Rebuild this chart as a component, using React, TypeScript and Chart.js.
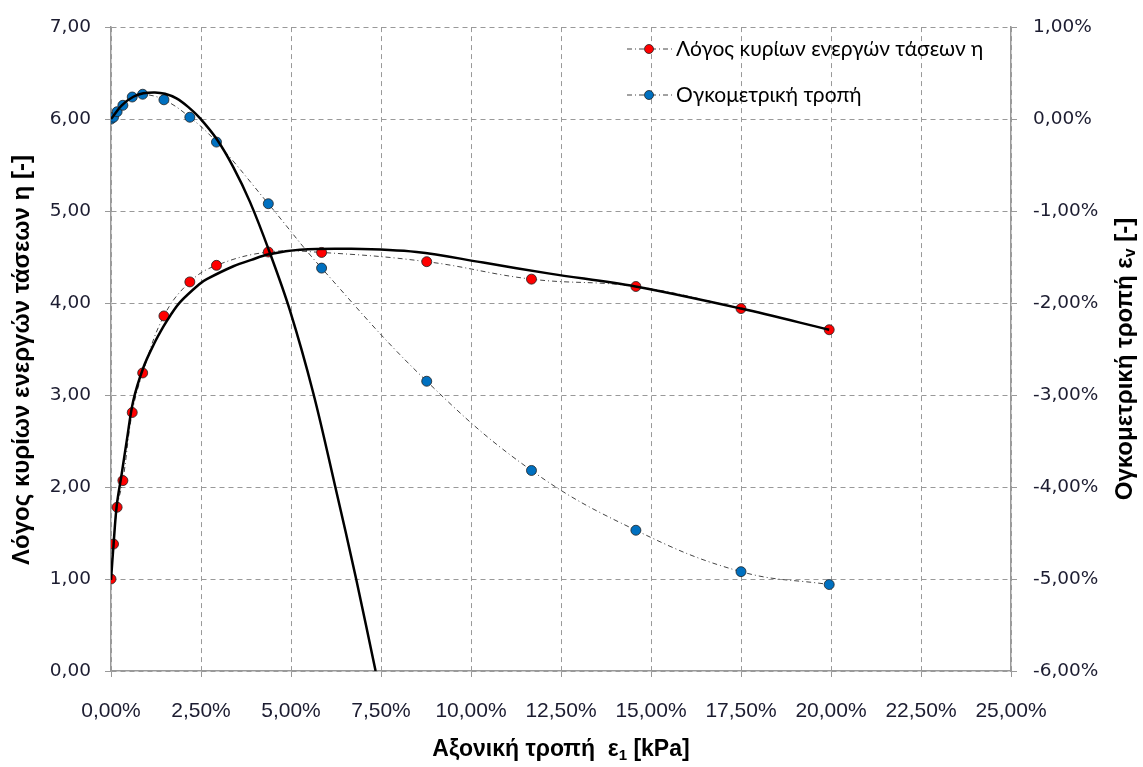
import React, { useEffect, useRef } from "react";
import { Chart, registerables } from "chart.js";

Chart.register(...registerables);

// ---- data (x in % axial strain) ----
const strainPct = [0, 0.07, 0.17, 0.33, 0.59, 0.88, 1.47, 2.19, 2.93, 4.37, 5.85, 8.77, 11.68, 14.58, 17.5, 19.95];
const etaValues = [1.0, 1.38, 1.78, 2.07, 2.81, 3.24, 3.86, 4.23, 4.41, 4.555, 4.55, 4.45, 4.26, 4.18, 3.94, 3.71];
const volStrainPct = [0, 0.02, 0.08, 0.15, 0.24, 0.27, 0.21, 0.02, -0.25, -0.92, -1.62, -2.85, -3.82, -4.47, -4.92, -5.06];

// fitted (trend) curves
const etaFitX = [0, 0.07, 0.16, 0.3, 0.44, 0.62, 0.9, 1.2, 1.45, 1.64, 1.92, 2.47, 2.66, 3.4, 3.9, 4.39, 5.25, 6.64, 8.49, 10.34, 12.19, 14.57, 17.5, 19.95];
const etaFitY = [0.99, 1.37, 1.8, 2.15, 2.51, 2.94, 3.3, 3.56, 3.74, 3.86, 4.01, 4.21, 4.26, 4.4, 4.47, 4.53, 4.58, 4.59, 4.555, 4.44, 4.32, 4.18, 3.94, 3.71];
const volFitX = [0, 0.3, 0.62, 0.9, 1.22, 1.5, 1.82, 2.15, 2.47, 2.94, 3.4, 3.86, 4.39, 4.97, 5.62, 6.22, 6.81, 7.35];
const volFitY = [0, 0.15, 0.243, 0.28, 0.29, 0.275, 0.225, 0.13, 0.01, -0.22, -0.525, -0.9, -1.43, -2.08, -2.98, -3.98, -5.0, -6.0];

const xTicks = [0, 2.5, 5, 7.5, 10, 12.5, 15, 17.5, 20, 22.5, 25];
const legendLabels = ["Λόγος κυρίων ενεργών τάσεων η", "Ογκομετρική τροπή"];
const leftTitle = ["Λόγος κυρίων ενεργών τάσεων η [-]", "", ""];
const rightTitle = ["Ογκομετρική τροπή ε", "v", " [-]"];
const bottomTitle = ["Αξονική τροπή  ε", "1", " [kPa]"];

const RED = "#FF0000";
const BLUE = "#0070C0";
const TICK_COLOR = "#1c1c30";
const comma = (v: number, d = 2) => v.toFixed(d).replace(".", ",");

const FAMILY = "'Liberation Sans Narrow', 'Liberation Sans', sans-serif";

function drawRich(ctx: CanvasRenderingContext2D, parts: string[], cx: number, cy: number, rot: number, size: number) {
  ctx.save();
  ctx.translate(cx, cy);
  ctx.rotate(rot);
  ctx.textBaseline = "middle";
  ctx.fillStyle = "#000";
  const fonts = [`bold ${size}px ${FAMILY}`, `bold ${Math.round(size * 0.65)}px ${FAMILY}`, `bold ${size}px ${FAMILY}`];
  const widths = parts.map((p, i) => {
    ctx.font = fonts[i];
    return ctx.measureText(p).width;
  });
  const total = widths.reduce((a, b) => a + b, 0);
  let x = -total / 2;
  parts.forEach((p, i) => {
    ctx.font = fonts[i];
    ctx.textAlign = "left";
    ctx.fillText(p, x, i === 1 ? size * 0.25 : 0);
    x += widths[i];
  });
  ctx.restore();
}

const overlayPlugin = {
  id: "overlay",
  afterDraw(chart: any) {
    const ctx: CanvasRenderingContext2D = chart.ctx;
    drawRich(ctx, leftTitle, 22, 360, -Math.PI / 2, 24);
    drawRich(ctx, rightTitle, 1125, 359, -Math.PI / 2, 24);
    drawRich(ctx, bottomTitle, 561, 750, 0, 23);

    // legend
    const colors = [RED, BLUE];
    const ys = [49, 95];
    legendLabels.forEach((lab, i) => {
      const y = ys[i];
      ctx.save();
      ctx.strokeStyle = "#444";
      ctx.lineWidth = 1;
      ctx.setLineDash([5, 3, 1, 3]);
      ctx.beginPath();
      ctx.moveTo(627, y);
      ctx.lineTo(672, y);
      ctx.stroke();
      ctx.setLineDash([]);
      ctx.beginPath();
      ctx.arc(649, y, 4.5, 0, Math.PI * 2);
      ctx.fillStyle = colors[i];
      ctx.fill();
      ctx.strokeStyle = "#222";
      ctx.lineWidth = 0.8;
      ctx.stroke();
      ctx.font = "21px Lato, 'Open Sans', sans-serif";
      ctx.fillStyle = "#000";
      ctx.textAlign = "left";
      ctx.textBaseline = "middle";
      ctx.fillText(lab, 676, y);
      ctx.restore();
    });
  },
};

export default function App() {
  const ref = useRef<HTMLCanvasElement | null>(null);
  useEffect(() => {
    if (!ref.current) return;
    const pts = (xs: number[], ys: number[]) => xs.map((x, i) => ({ x, y: ys[i] }));
    const chart = new Chart(ref.current, {
      type: "scatter",
      data: {
        datasets: [
          {
            label: "etaFit",
            data: pts(etaFitX, etaFitY),
            showLine: true,
            borderColor: "#000",
            borderWidth: 2.5,
            pointRadius: 0,
            tension: 0.35,
            yAxisID: "y",
          } as any,
          {
            label: "volFit",
            data: pts(volFitX, volFitY),
            showLine: true,
            borderColor: "#000",
            borderWidth: 2.5,
            pointRadius: 0,
            tension: 0.35,
            yAxisID: "y1",
          } as any,
          {
            label: legendLabels[0],
            data: pts(strainPct, etaValues),
            showLine: true,
            borderColor: "#444",
            borderWidth: 1,
            borderDash: [5, 3, 1, 3],
            tension: 0.4,
            pointRadius: 5,
            pointBackgroundColor: RED,
            pointBorderColor: "#222",
            pointBorderWidth: 0.8,
            yAxisID: "y",
          } as any,
          {
            label: legendLabels[1],
            data: pts(strainPct, volStrainPct),
            showLine: true,
            borderColor: "#444",
            borderWidth: 1,
            borderDash: [5, 3, 1, 3],
            tension: 0.4,
            pointRadius: 5,
            pointBackgroundColor: BLUE,
            pointBorderColor: "#222",
            pointBorderWidth: 0.8,
            yAxisID: "y1",
          } as any,
        ],
      },
      options: {
        responsive: false,
        animation: false,
        layout: { padding: { top: 18, left: 0, right: 0, bottom: 0 } },
        plugins: { legend: { display: false }, tooltip: { enabled: false } },
        scales: {
          x: {
            type: "linear",
            min: 0,
            max: 25,
            afterBuildTicks: (s: any) => {
              s.ticks = xTicks.map((v) => ({ value: v }));
            },
            afterFit: (s: any) => {
              s.height = 96;
            },
            ticks: {
              callback: (v: any) => comma(Number(v)) + "%",
              font: { family: FAMILY, size: 21 },
              color: TICK_COLOR,
              padding: 22,
              maxRotation: 0,
              autoSkip: false,
            },
            grid: {
              color: "#999",
              lineWidth: 1,
              tickLength: 6,
              tickColor: "#999",
              tickBorderDash: [],
            } as any,
            border: { color: "#999", width: 1.5, dash: [5, 4] } as any,
          },
          y: {
            type: "linear",
            position: "left",
            min: 0,
            max: 7,
            afterFit: (s: any) => {
              s.width = 111;
            },
            ticks: {
              stepSize: 1,
              callback: (v: any) => comma(Number(v)),
              font: { family: "'DejaVu Sans', sans-serif", size: 18.5 },
              color: TICK_COLOR,
              padding: 14,
            },
            grid: {
              color: "#999",
              lineWidth: 1,
              tickLength: 6,
              tickColor: "#999",
              tickBorderDash: [],
            } as any,
            border: { color: "#999", width: 1.5, dash: [5, 4] } as any,
          },
          y1: {
            type: "linear",
            position: "right",
            min: -6,
            max: 1,
            afterFit: (s: any) => {
              s.width = 132;
            },
            ticks: {
              stepSize: 1,
              callback: (v: any) => comma(Number(v)) + "%",
              font: { family: "'DejaVu Sans', sans-serif", size: 18.5 },
              color: TICK_COLOR,
              padding: 16,
            },
            grid: {
              drawOnChartArea: false,
              tickLength: 6,
              tickColor: "#999",
              tickBorderDash: [],
            } as any,
            border: { color: "#999", width: 1.5 } as any,
          },
        },
      } as any,
      plugins: [overlayPlugin],
    });
    return () => chart.destroy();
  }, []);

  return (
    <div style={{ position: "absolute", left: 0, top: 0, width: 1143, height: 767, background: "#fff" }}>
      <canvas ref={ref} width={1143} height={767} style={{ display: "block" }} />
    </div>
  );
}
